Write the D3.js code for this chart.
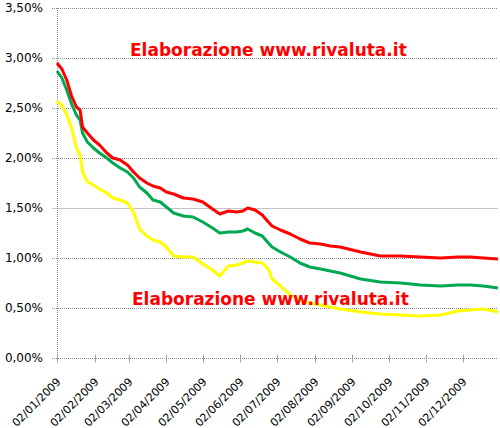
<!DOCTYPE html>
<html>
<head>
<meta charset="utf-8">
<script src="https://cdn.jsdelivr.net/npm/d3@7"></script>
<style>
  body { margin: 0; background: #fff; }
  svg { display: block; }
  .tick-label { font-family: "DejaVu Sans", Verdana, sans-serif; font-size: 12px; fill: #000; }
  .x-tick text { font-size: 11px; }
  .watermark { font-family: "DejaVu Sans", Verdana, sans-serif; font-size: 17px; font-weight: bold; fill: #ff0000; }
</style>
</head>
<body>
<div class="chart-container"></div>
<script>
/* Data
   ========================================================================== */
var dates = ["2009-01-02","2009-01-06","2009-01-10","2009-01-14","2009-01-18","2009-01-21",
    "2009-01-23","2009-01-27","2009-02-01","2009-02-06","2009-02-12","2009-02-17","2009-02-23",
    "2009-03-01","2009-03-06","2009-03-11","2009-03-17","2009-03-22","2009-03-28","2009-04-02",
    "2009-04-08","2009-04-16","2009-04-24","2009-05-02","2009-05-10","2009-05-16","2009-05-23",
    "2009-05-30","2009-06-04","2009-06-08","2009-06-14","2009-06-20","2009-06-25","2009-06-28",
    "2009-07-05","2009-07-13","2009-07-21","2009-07-29","2009-08-07","2009-08-15","2009-08-23",
    "2009-09-09","2009-09-25","2009-10-12","2009-10-28","2009-11-14","2009-11-28","2009-12-08",
    "2009-12-19","2009-12-31"];

var redValues = [2.95,2.89,2.78,2.62,2.51,2.48,2.31,2.25,2.18,2.13,2.05,2.00,1.98,
    1.93,1.86,1.80,1.75,1.72,1.70,1.66,1.64,1.60,1.59,1.56,1.49,1.44,1.47,
    1.46,1.47,1.50,1.48,1.43,1.36,1.32,1.28,1.24,1.19,1.15,1.14,1.12,1.11,
    1.06,1.02,1.02,1.01,1.00,1.01,1.01,1.00,0.99];

var greenValues = [2.87,2.80,2.68,2.54,2.43,2.38,2.25,2.16,2.10,2.05,2.00,1.95,1.90,
    1.86,1.80,1.71,1.65,1.58,1.56,1.51,1.45,1.42,1.41,1.36,1.30,1.25,1.26,
    1.26,1.27,1.29,1.25,1.22,1.15,1.11,1.06,1.01,0.95,0.91,0.89,0.87,0.85,
    0.79,0.76,0.75,0.73,0.72,0.73,0.73,0.72,0.70];

var yellowValues = [2.57,2.53,2.43,2.30,2.10,2.03,1.86,1.76,1.73,1.69,1.65,1.60,1.58,
    1.55,1.46,1.29,1.22,1.18,1.16,1.11,1.02,1.01,1.01,0.94,0.88,0.82,0.92,
    0.93,0.95,0.97,0.96,0.95,0.89,0.79,0.72,0.63,0.58,0.55,0.53,0.51,0.49,
    0.46,0.44,0.43,0.42,0.43,0.47,0.48,0.49,0.46];

var yTicks = [0, 0.5, 1, 1.5, 2, 2.5, 3, 3.5];
var xTickDates = ["2009-01-02","2009-02-02","2009-03-02","2009-04-02","2009-05-02","2009-06-02",
    "2009-07-02","2009-08-02","2009-09-02","2009-10-02","2009-11-02","2009-12-02"];

var seriesList = [
    { name: "yellow", color: "#ffff00", values: yellowValues },
    { name: "green",  color: "#00a850", values: greenValues },
    { name: "red",    color: "#ff0000", values: redValues }
];

/* Chart
   ========================================================================== */
var margin = { top: 8, right: 2, bottom: 70, left: 57 },
    width = 500 - margin.left - margin.right,
    height = 428 - margin.top - margin.bottom;

var parseDate = d3.timeParse("%Y-%m-%d");
var fmtDate = d3.timeFormat("%d/%m/%Y");
// comma as decimal separator
var fmtPct = function(v) { return v.toFixed(2).replace(".", ",") + "%"; };

var x = d3.scaleTime()
    .domain([parseDate("2009-01-02"), parseDate("2009-12-31")])
    .range([0, width]);
var y = d3.scaleLinear()
    .domain([0, 3.5])
    .range([height, 0]);

var svg = d3.select('.chart-container').append("svg")
    .attr("width", 500)
    .attr("height", 428)
    .append("g")
    .attr("transform", "translate(" + margin.left + "," + margin.top + ")");

// Horizontal gridlines (1,50% one is drawn solid and lighter, like the picture)
svg.selectAll(".grid")
    .data(yTicks.filter(function(d) { return d > 0; }))
    .enter().append("line")
    .attr("class", "grid")
    .attr("x1", -5)
    .attr("x2", width)
    .attr("y1", function(d) { return Math.round(y(d)) + 0.5; })
    .attr("y2", function(d) { return Math.round(y(d)) + 0.5; })
    .attr("stroke", function(d) { return d === 1.5 ? "#c4c4c4" : "#8c8c8c"; })
    .attr("stroke-dasharray", function(d) { return d === 1.5 ? null : "1,1"; });

// Y axis line + labels
svg.append("line")
    .attr("x1", 0.5).attr("x2", 0.5)
    .attr("y1", 0).attr("y2", height)
    .attr("stroke", "#8c8c8c")
    .attr("stroke-dasharray", "1,1");

svg.selectAll(".y-label")
    .data(yTicks)
    .enter().append("text")
    .attr("class", "tick-label")
    .attr("x", -14)
    .attr("y", function(d) { return y(d); })
    .attr("dy", "0.36em")
    .attr("text-anchor", "end")
    .text(fmtPct);

// X axis
var xAxis = svg.append("g")
    .attr("class", "x-axis")
    .attr("transform", "translate(0," + (Math.round(height) + 0.5) + ")");

xAxis.append("line")
    .attr("x1", -5).attr("x2", width)
    .attr("stroke", "#8c8c8c")
    .attr("stroke-dasharray", "1,1");

var ticks = xAxis.selectAll(".x-tick")
    .data(xTickDates.map(parseDate))
    .enter().append("g")
    .attr("class", "x-tick")
    .attr("transform", function(d) { return "translate(" + (Math.round(x(d)) + 0.5) + ",0)"; });

ticks.append("line")
    .attr("y1", -4).attr("y2", 4)
    .attr("stroke", "#a0a0a0");

ticks.append("text")
    .attr("class", "tick-label")
    .attr("text-anchor", "end")
    .attr("transform", "translate(4,24) rotate(-45)")
    .text(fmtDate);

// Lines
var line = d3.line()
    .x(function(d, i) { return x(parseDate(dates[i])); })
    .y(function(d) { return y(d); });

svg.selectAll(".series")
    .data(seriesList)
    .enter().append("path")
    .attr("class", "series")
    .attr("fill", "none")
    .attr("stroke", function(d) { return d.color; })
    .attr("stroke-width", 3)
    .attr("stroke-linejoin", "round")
    .attr("d", function(d) { return line(d.values); });

// Watermarks
svg.append("text")
    .attr("class", "watermark")
    .attr("x", 130 - margin.left)
    .attr("y", 56 - margin.top)
    .text("Elaborazione www.rivaluta.it");

svg.append("text")
    .attr("class", "watermark")
    .attr("x", 132 - margin.left)
    .attr("y", 305 - margin.top)
    .text("Elaborazione www.rivaluta.it");
</script>
</body>
</html>
